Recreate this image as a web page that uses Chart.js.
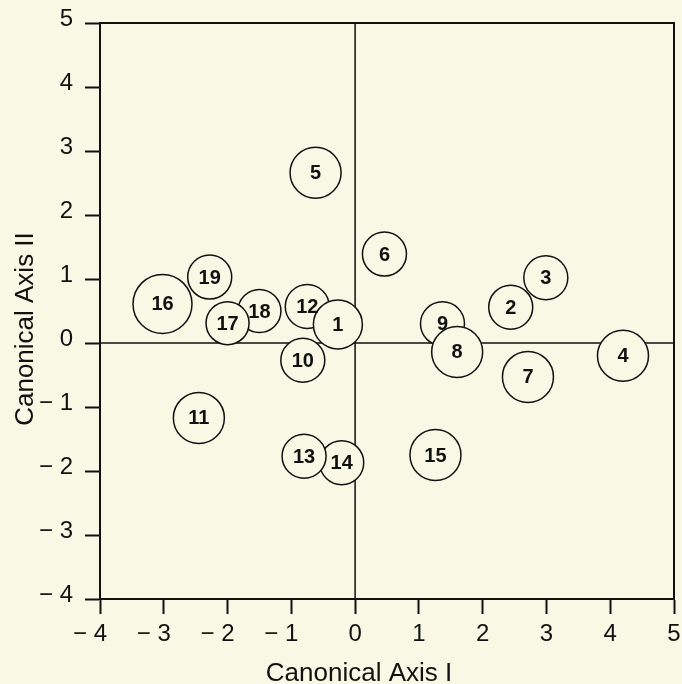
<!DOCTYPE html>
<html>
<head>
<meta charset="utf-8">
<script src="https://cdn.jsdelivr.net/npm/chart.js@4.4.1/dist/chart.umd.min.js"></script>
<style>
  html, body { margin: 0; padding: 0; background: #f8f8e4; }
  #wrap { width: 682px; height: 684px; }
</style>
</head>
<body>
<div id="wrap"><canvas id="myChart"></canvas></div>
<script>
// sample numbers, canonical scores and bubble size
const sampleLabels = ['1', '2', '3', '4', '5', '6', '7', '8', '9', '10',
    '11', '12', '13', '14', '15', '16', '17', '18', '19'];
const axisI = [-0.27, 2.44, 2.99, 4.20, -0.62, 0.46, 2.71, 1.60, 1.37, -0.82,
    -2.45, -0.75, -0.80, -0.21, 1.26, -3.02, -2.00, -1.50, -2.28];
const axisII = [0.29, 0.56, 1.02, -0.20, 2.66, 1.39, -0.53, -0.14, 0.30, -0.27,
    -1.17, 0.57, -1.77, -1.87, -1.75, 0.61, 0.31, 0.50, 1.03];
const bubbleR = [24.5, 22, 22, 25.5, 25.5, 22, 25.5, 25.5, 22, 22,
    25.5, 22, 22, 22, 25.5, 29.5, 21.5, 21.5, 22];
const tickValues = [-4, -3, -2, -1, 0, 1, 2, 3, 4, 5];

const bg = '#f8f8e4';
const ink = '#111';
const font = "'Liberation Sans', Arial, sans-serif";

// higher numbers sit underneath lower ones, so draw them first
const points = sampleLabels.map((lab, i) => ({x: axisI[i], y: axisII[i], r: bubbleR[i], label: lab})).reverse();

function minusLabel(v) {
    return v < 0 ? '\u2212 ' + Math.abs(v) : String(v);
}

const paperPlugin = {
    id: 'paper',
    beforeDraw(chart) {
        const c = chart.ctx;
        c.save();
        c.fillStyle = bg;
        c.fillRect(0, 0, chart.width, chart.height);
        c.restore();
    },
    beforeDatasetsDraw(chart) {
        const c = chart.ctx;
        const a = chart.chartArea;
        const sx = chart.scales.x, sy = chart.scales.y;
        c.save();
        c.strokeStyle = ink;
        // zero lines
        c.lineWidth = 1.5;
        c.beginPath();
        const x0 = sx.getPixelForValue(0), y0 = sy.getPixelForValue(0);
        c.moveTo(x0, a.top); c.lineTo(x0, a.bottom);
        c.moveTo(a.left, y0); c.lineTo(a.right, y0);
        c.stroke();
        // top and right frame
        c.lineWidth = 2;
        c.beginPath();
        c.moveTo(a.left, a.top); c.lineTo(a.right, a.top); c.lineTo(a.right, a.bottom);
        c.stroke();
        c.restore();
    },
    afterDatasetsDraw(chart) {
        const c = chart.ctx;
        c.save();
        c.fillStyle = ink;
        c.font = 'bold 20px ' + font;
        c.textAlign = 'center';
        c.textBaseline = 'middle';
        chart.getDatasetMeta(0).data.forEach((el, i) => {
            c.fillText(chart.data.datasets[0].data[i].label, el.x, el.y + 1);
        });
        // axis titles
        c.font = '26px ' + font;
        c.textBaseline = 'alphabetic';
        c.fillText('Canonical Axis I', 359, 681);
        c.translate(33, 329);
        c.rotate(-Math.PI / 2);
        c.fillText('Canonical Axis II', 0, 0);
        c.restore();
    }
};

const axisCommon = {
    type: 'linear',
    min: -4,
    max: 5,
    afterBuildTicks(scale) {
        scale.ticks = tickValues.map(v => ({value: v}));
    },
    grid: {
        drawOnChartArea: false,
        drawTicks: true,
        tickLength: 15,
        tickWidth: 2,
        tickColor: ink
    },
    border: {display: true, color: ink, width: 2},
    title: {display: false}
};

const config = {
    type: 'bubble',
    data: {
        datasets: [{
            data: points,
            backgroundColor: bg,
            borderColor: ink,
            borderWidth: 1.5,
            hoverBorderWidth: 1.5,
            hoverRadius: 0,
            clip: false
        }]
    },
    options: {
        responsive: true,
        maintainAspectRatio: false,
        animation: false,
        events: [],
        layout: {autoPadding: false, padding: {top: 23, right: 8, left: 0, bottom: 0}},
        plugins: {legend: {display: false}, tooltip: {enabled: false}},
        scales: {
            x: Object.assign({}, axisCommon, {
                position: 'bottom',
                afterFit(scale) {
                    scale.height = 85;
                    scale.paddingLeft = 0;
                    scale.paddingRight = 0;
                },
                ticks: {
                    color: ink,
                    font: {family: font, size: 24},
                    padding: 6,
                    maxRotation: 0,
                    autoSkip: false,
                    callback: v => v < 0 ? minusLabel(v) + '   ' : String(v)
                }
            }),
            y: Object.assign({}, axisCommon, {
                position: 'left',
                afterFit(scale) {
                    scale.width = 100;
                    scale.paddingTop = 0;
                    scale.paddingBottom = 0;
                },
                ticks: {
                    color: ink,
                    font: {family: font, size: 24},
                    padding: 12,
                    labelOffset: -4,
                    autoSkip: false,
                    callback: v => minusLabel(v)
                }
            })
        }
    },
    plugins: [paperPlugin]
};

const myChart = new Chart(document.getElementById('myChart'), config);
</script>
</body>
</html>
